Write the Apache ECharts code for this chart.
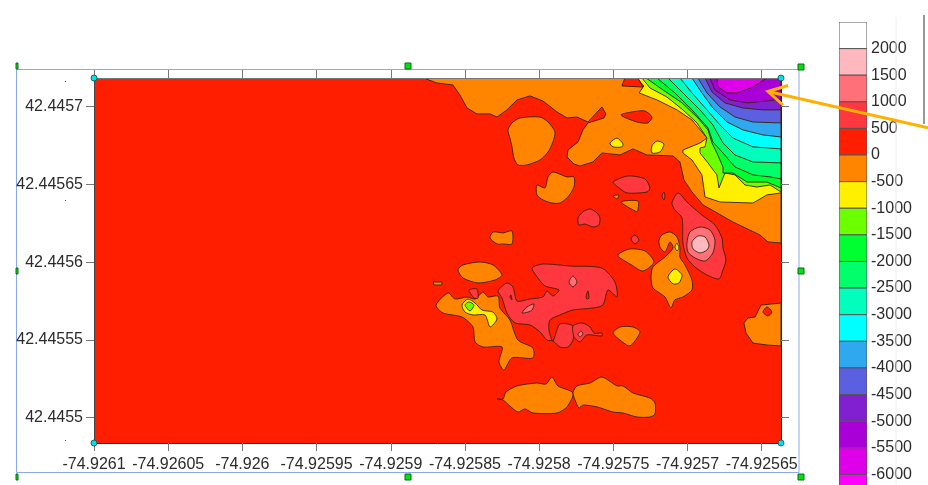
<!DOCTYPE html>
<html><head><meta charset="utf-8">
<style>html,body{margin:0;padding:0;background:#fff}#c{width:928px;height:485px}</style>
<script src="https://cdn.jsdelivr.net/npm/echarts@6/dist/echarts.min.js"></script>
</head><body><div id="c"></div>
<script>
// Axis data
const lonMin = -74.9261, latMin = 42.44548373;
const offsetUnit = 1e-7;            // polygon vertices are offsets from (lonMin, latMin) in 1e-7 degree
const lonSpan = 4630, latSpan = 2347;
const xTicks = [-74.9261,-74.92605,-74.926,-74.92595,-74.9259,-74.92585,-74.9258,-74.92575,-74.9257,-74.92565];
const yTicks = [42.4455,42.44555,42.4456,42.44565,42.4457];

// Colour scale
const bandEdges = [2500,2000,1500,1000,500,0,-500,-1000,-1500,-2000,-2500,-3000,-3500,-4000,-4500,-5000,-5500,-6000,-6500];
const bandColors = ['#FFFFFF','#FFB8BE','#FF7078','#FF3840','#FF1E00','#FF8400','#FFF000','#6CFF00','#00FF30','#00FF6A','#00FFBC','#00FFFF','#2FA8F0','#5A60E0','#8020D0','#AA00D8','#DD00E8','#FF00FF'];
const scaleTicks = [2000,1500,1000,500,0,-500,-1000,-1500,-2000,-2500,-3000,-3500,-4000,-4500,-5000,-5500,-6000];

// Contour regions, [lon,lat,lon,lat,...]
const baseRed = [0,0, 4630,0, 4630,2347, 0,2347];
const orangeMain = [2237,2347, 4630,2347, 4630,1286, 4542,1293, 4488,1338, 4306,1421, 4104,1531, 4030,1614, 3976,1691, 3949,1807, 3902,1846, 3727,1852, 3632,1891, 3545,1852, 3423,1865, 3363,1807, 3275,1781, 3235,1794, 3188,1839, 3194,1884, 3262,1936, 3295,2013, 3329,2058, 3437,2090, 3450,2116, 3423,2161, 3329,2064, 3255,2096, 3188,2090, 3120,2129, 3026,2199, 2938,2232, 2851,2206, 2783,2142, 2716,2096, 2669,2116, 2581,2116, 2514,2154, 2466,2238, 2419,2302, 2311,2315, 2237,2341];
const yellowMain = [3659,2347, 3706,2296, 3673,2251, 3794,2206, 3929,2142, 4030,2077, 4097,2000, 4131,1961, 4084,1929, 3969,1884, 3969,1865, 4030,1820, 4097,1724, 4118,1582, 4219,1550, 4441,1543, 4535,1595, 4630,1608, 4630,2347];
const limeMain = [3693,2347, 3747,2283, 3861,2225, 3969,2142, 4064,2058, 4131,1961, 4118,1904, 4084,1897, 4084,1865, 4138,1801, 4198,1724, 4212,1640, 4252,1736, 4320,1724, 4387,1659, 4468,1646, 4556,1659, 4630,1614, 4630,2347];
const green1 = [3720,2347, 3835,2270, 3963,2187, 4070,2090, 4138,2013, 4165,1929, 4198,1865, 4239,1775, 4239,1736, 4306,1736, 4401,1678, 4535,1678, 4630,1640, 4630,2347];
const green2 = [3794,2347, 3915,2251, 4030,2142, 4138,2026, 4171,1936, 4239,1865, 4320,1775, 4441,1724, 4556,1711, 4630,1698, 4630,2347];
const teal = [3868,2347, 3969,2251, 4084,2142, 4171,2045, 4239,1929, 4320,1852, 4441,1807, 4630,1801, 4630,2347];
const cyan = [3949,2347, 4030,2251, 4131,2142, 4219,2045, 4306,1961, 4441,1904, 4630,1891, 4630,2347];
const blue = [4030,2347, 4097,2251, 4171,2154, 4266,2064, 4374,2013, 4508,1981, 4630,1968, 4630,2347];
const indigo = [4070,2347, 4131,2251, 4219,2161, 4320,2096, 4441,2064, 4630,2058, 4630,2347];
const purple = [4118,2347, 4165,2257, 4252,2187, 4374,2154, 4508,2142, 4630,2142, 4630,2347];
const violet = [4151,2347, 4185,2270, 4286,2206, 4401,2187, 4535,2199, 4630,2212, 4630,2347];
const magenta = [4198,2347, 4205,2289, 4266,2251, 4333,2251, 4441,2289, 4535,2347];
const redTop = [3558,2296, 3578,2347, 3666,2347, 3700,2289];
const redTop2 = [3551,2109, 3626,2129, 3713,2135, 3760,2096, 3733,2058, 3659,2064];
const yellowSpot1 = [3477,1929, 3525,1961, 3565,1923, 3558,1904, 3498,1904];
const yellowSpot2 = [3760,1910, 3794,1942, 3841,1923, 3814,1871, 3760,1865];
const orangeA = [2790,2013, 2817,2058, 2871,2090, 3006,2096, 3060,2064, 3107,2000, 3093,1936, 3060,1871, 3006,1820, 2918,1788, 2857,1788, 2830,1833, 2817,1904, 2803,1961];
const orangeB = [2985,1659, 3039,1640, 3060,1711, 3093,1743, 3188,1711, 3235,1711, 3235,1646, 3194,1582, 3140,1543, 3086,1543, 3026,1563, 2985,1595];
const orangeC = [2669,1318, 2689,1357, 2756,1351, 2817,1363, 2817,1280, 2756,1280, 2716,1280];
const orangeD = [3498,1588, 3538,1595, 3525,1569];
const orangeE = [3551,1550, 3666,1556, 3666,1498, 3659,1486];
const orangeF = [3808,1305, 3828,1338, 3882,1357, 3929,1325, 3949,1260, 3949,1196, 3983,1145, 4030,1048, 4030,984, 3969,939, 3915,920, 3888,868, 3848,939, 3767,997, 3754,1068, 3767,1132, 3848,1196, 3902,1254, 3882,1293, 3848,1228, 3814,1260];
const orangeG = [3531,1203, 3545,1222, 3612,1248, 3713,1235, 3774,1164, 3700,1106, 3612,1151, 3545,1190];
const orangeH = [4380,772, 4407,804, 4455,810, 4495,887, 4630,900, 4630,624, 4535,630, 4441,643, 4394,707];
const orangeI = [3498,707, 3545,746, 3632,746, 3680,714, 3612,624, 3545,662];
const orangeJ = [2453,1113, 2487,1145, 2601,1164, 2689,1145, 2750,1080, 2702,1048, 2588,1029, 2487,1061];
const orangeK = [2285,1035, 2345,1035, 2345,1016, 2291,1016];
const orangeL = [2305,887, 2386,965, 2433,926, 2514,939, 2568,926, 2622,971, 2655,939, 2723,945, 2736,868, 2803,791, 2857,662, 2958,611, 2958,547, 2817,547, 2763,469, 2729,521, 2750,617, 2622,617, 2568,650, 2554,746, 2480,810, 2352,836];
const orangeO1 = [2716,283, 2756,283, 2776,328, 2851,367, 2985,386, 3046,379, 3086,424, 3127,367, 3228,322, 3188,232, 3120,193, 2958,193, 2905,219, 2857,199, 2803,238, 2756,277];
const orangeO2 = [3228,322, 3255,367, 3343,386, 3423,424, 3525,367, 3565,367, 3632,322, 3747,289, 3781,257, 3781,186, 3747,167, 3659,167, 3565,193, 3498,199, 3390,232, 3295,244, 3268,225];
const yellowF = [3868,1068, 3915,1119, 3963,1080, 3942,1029, 3902,1023];
const yellowS = [3915,1260, 3929,1286, 3942,1254, 3929,1235];
const yellowL = [2480,887, 2520,926, 2568,900, 2615,855, 2689,842, 2716,797, 2669,746, 2635,823, 2554,823, 2500,842];
const limeL = [2500,887, 2527,907, 2561,887, 2534,849];
const redH = [4508,842, 4535,875, 4569,842, 4542,817];
const highP1 = [3498,1678, 3599,1717, 3713,1698, 3747,1640, 3727,1614, 3592,1608, 3531,1646];
const highP2 = [3262,1447, 3295,1486, 3343,1505, 3390,1479, 3410,1447, 3403,1402, 3363,1389, 3309,1408, 3268,1402];
const highP3 = [3619,1312, 3646,1338, 3673,1305, 3646,1280];
const highP4 = [3828,1588, 3841,1614, 3848,1588, 3841,1563];
const highP5 = [3895,1543, 3936,1608, 4003,1543, 4097,1466, 4185,1402, 4232,1318, 4239,1254, 4259,1177, 4239,1113, 4212,1055, 4131,1080, 4050,1132, 3996,1190, 3969,1286, 3963,1447, 3915,1498];
const highQ = [2527,984, 2581,990, 2588,932, 2561,932];
const highM = [2723,978, 2783,1029, 2824,1003, 2851,913, 2938,926, 3026,939, 3053,978, 3093,945, 3134,984, 3039,1010, 2992,1061, 2952,1125, 3026,1151, 3208,1138, 3423,1125, 3511,1035, 3525,939, 3464,984, 3430,887, 3363,868, 3228,855, 3140,823, 3073,791, 3066,727, 3093,656, 3140,765, 3228,752, 3228,662, 3194,617, 3140,617, 3093,656, 3053,662, 3006,714, 2938,759, 2837,772, 2783,836, 2750,932];
const highN = [3228,752, 3289,772, 3343,746, 3370,707, 3423,707, 3423,688, 3322,695, 3275,650, 3235,682];
const pink1 = [3996,1286, 4016,1357, 4084,1389, 4151,1370, 4185,1305, 4171,1222, 4118,1170, 4050,1190, 4003,1228];
const pale1 = [4030,1293, 4070,1331, 4118,1325, 4145,1273, 4131,1241, 4084,1222, 4037,1248];
const pinkM1 = [2884,836, 2918,875, 2965,894, 2952,855, 2925,842];
const pinkM2 = [3201,1035, 3228,1074, 3255,1035, 3228,1003];
const pinkN = [3262,701, 3282,720, 3295,701, 3275,682];
const redM1 = [3316,939, 3329,978, 3336,932, 3322,926];
const redM2 = [2803,939, 2810,952, 2817,920];

// Draw order: [lower edge of the band, polygon]
const layers = [
  [0,baseRed],
  [-500,orangeMain],[-1000,yellowMain],[-1500,limeMain],[-2000,green1],[-2500,green2],[-3000,teal],
  [-3500,cyan],[-4000,blue],[-4500,indigo],[-5000,purple],[-5500,violet],[-6000,magenta],
  [0,redTop],[0,redTop2],[-1000,yellowSpot1],[-1000,yellowSpot2],
  [-500,orangeA],[-500,orangeB],[-500,orangeC],[-500,orangeD],[-500,orangeE],[-500,orangeF],[-500,orangeG],
  [-500,orangeH],[-500,orangeI],[-500,orangeJ],[-500,orangeK],[-500,orangeL],[-500,orangeO1],[-500,orangeO2],
  [-1000,yellowF],[-1000,yellowS],[-1000,yellowL],[-1500,limeL],[0,redH],
  [500,highP1],[500,highP2],[500,highP3],[500,highP4],[500,highP5],[500,highQ],[500,highM],[500,highN],
  [1000,pink1],[1500,pale1],[1000,pinkM1],[1000,pinkM2],[1000,pinkN],[0,redM1],[0,redM2]
];
// Regions that meet the plot border keep their corners; the rest have rounded contours.
const sharpRegions = [baseRed,orangeMain,yellowMain,limeMain,green1,green2,teal,cyan,blue,indigo,purple,violet,magenta,redTop,orangeH,orangeK];

const lonOf = o => lonMin + o * offsetUnit;
const latOf = o => latMin + o * offsetUnit;
const lonMax = lonOf(lonSpan), latMax = latOf(latSpan);
const colorOf = low => bandColors[bandEdges.indexOf(low) - 1];
const corners = [[lonMin,latMax],[lonMax,latMax],[lonMin,latMin],[lonMax,latMin]];

const axisFont = {fontFamily:'"Liberation Sans",Arial,sans-serif',fontSize:16,color:'#2b2b2b'};
const mainX = (position,lineColor,labels) => ({
  type:'value',gridIndex:0,position,min:lonMin,max:lonMax,z:10,splitLine:{show:false},
  axisLine:{show:true,onZero:false,lineStyle:{color:lineColor,width:1}},
  axisTick:{show:true,length:8,customValues:xTicks,lineStyle:{color:'#777',width:1}},
  axisLabel:{show:labels,margin:14,customValues:xTicks,formatter:v=>String(v),...axisFont}
});
const mainY = (position,lineColor,labels) => ({
  type:'value',gridIndex:0,position,min:latMin,max:latMax,z:10,splitLine:{show:false},
  axisLine:{show:true,onZero:false,lineStyle:{color:lineColor,width:1}},
  axisTick:{show:true,length:8,customValues:yTicks,lineStyle:{color:'#777',width:1}},
  axisLabel:{show:labels,margin:11,customValues:yTicks,formatter:v=>String(v),...axisFont}
});

const chart = echarts.init(document.getElementById('c'),null,{renderer:'canvas'});
const rect = (x,y,w,h,fill,stroke) => ({type:'rect',z:60,silent:true,shape:{x,y,width:w,height:h},style:{fill,stroke:stroke||null,lineWidth:1}});
const handle = (x,y,w) => rect(x,y,w,6,'#00E010','#0A6A10');
const seg = (pts,stroke,lineWidth,z) => ({type:'polyline',z:z||60,silent:true,shape:{points:pts},style:{stroke,lineWidth,fill:null}});

chart.setOption({
  animation:false,
  backgroundColor:'#fff',
  grid:[
    {left:94,top:78,width:687,height:365,containLabel:false},
    {left:839,top:22,width:28,height:463,containLabel:false}
  ],
  xAxis:[
    mainX('bottom','#222',true),
    mainX('top','#777',false),
    {type:'value',gridIndex:1,min:0,max:1,show:false}
  ],
  yAxis:[
    mainY('left','#444',true),
    mainY('right','#222',false),
    {type:'value',gridIndex:1,position:'right',min:-6200,max:2500,splitLine:{show:false},
     axisLine:{show:false},axisTick:{show:false},
     axisLabel:{show:true,margin:4,padding:[3,0,0,0],customValues:scaleTicks,formatter:v=>String(v),...axisFont}}
  ],
  series:[
    {type:'custom',name:'contours',xAxisIndex:0,yAxisIndex:0,clip:true,silent:true,z:2,
     encode:{x:0,y:1},
     data:layers.map((l,i)=>[lonOf(l[1][0]),latOf(l[1][1]),i]),
     renderItem:(params,api)=>{
       const layer = layers[params.dataIndex], p = layer[1], points = [];
       for(let i=0;i<p.length;i+=2) points.push(api.coord([lonOf(p[i]),latOf(p[i+1])]));
       return {type:'polygon',shape:{points,smooth:sharpRegions.includes(p)?0:0.25},style:{fill:colorOf(layer[0]),
         stroke:params.dataIndex===0?null:'#3a2008',lineWidth:0.9}};
     }},
    {type:'scatter',name:'corners',xAxisIndex:0,yAxisIndex:0,clip:false,silent:true,z:20,
     symbol:'circle',symbolSize:6,data:corners,
     itemStyle:{color:'#00E0E8',borderColor:'#0A4A50',borderWidth:0.8,opacity:1}},
    {type:'custom',name:'scale',xAxisIndex:2,yAxisIndex:2,clip:true,silent:true,z:2,
     encode:{x:0,y:1},
     data:bandColors.map((c,i)=>[0,Math.max(bandEdges[i],-6200),i]),
     renderItem:(params,api)=>{
       const i = params.dataIndex;
       const a = api.coord([0,bandEdges[i]]), b = api.coord([1,bandEdges[i+1]]);
       return {type:'rect',shape:{x:a[0],y:a[1],width:b[0]-a[0],height:b[1]-a[1]},
         style:{fill:bandColors[i],stroke:'#555',lineWidth:1}};
     }}
  ],
  graphic:{elements:[
    seg([[896,17],[896,485]],'#EEEEEE',1,1),
    seg([[924,15],[924,124]],'#333',1,1),
    {type:'rect',z:1,silent:true,shape:{x:16.5,y:69.5,width:782.5,height:403},style:{fill:null,stroke:'#8AA8F0',lineWidth:1}},
    handle(798,64,6),handle(405,63,6),handle(16,63,2),
    handle(798,268,6),handle(16,268,2),
    handle(798,474,6),handle(405,474,6),handle(16,474,2),
    rect(65,81,1,1,'#555'),rect(65,200,1,1,'#555'),rect(65,440,1,1,'#555'),
    seg([[768,91.5],[928,127.7]],'#FFB000',3,70),
    seg([[788,85.5],[768,91.5],[783,105]],'#FFB000',3,70)
  ]}
});
</script></body></html>
